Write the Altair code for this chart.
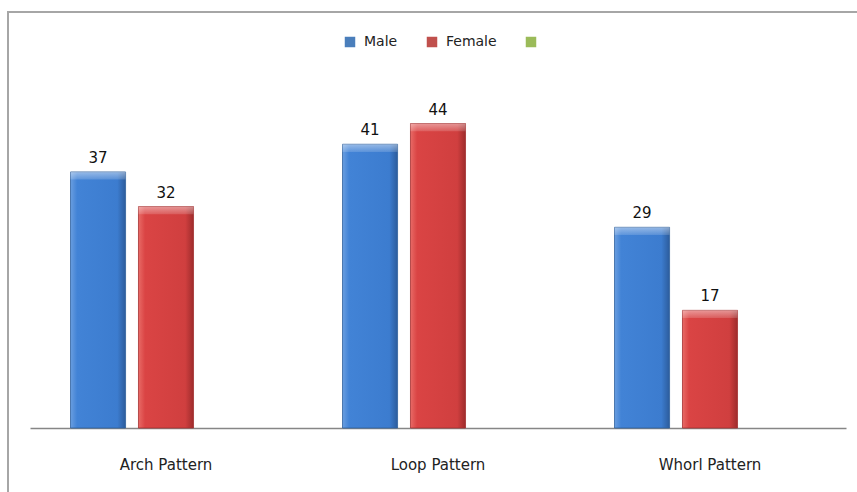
import altair as alt
import pandas as pd

categories = ["Arch Pattern", "Loop Pattern", "Whorl Pattern"]
series_names = ["Male", "Female", "Series3"]
male = [37, 41, 29]
female = [32, 44, 17]

rows = []
for c, m, f in zip(categories, male, female):
    rows.append({"category": c, "series": "Male", "value": m})
    rows.append({"category": c, "series": "Female", "value": f})
df = pd.DataFrame(rows)

FONT = "DejaVu Sans"

x_enc = alt.X("category:N", sort=categories,
              scale=alt.Scale(domain=categories, paddingInner=0.298, paddingOuter=0.149),
              axis=alt.Axis(title=None, labelAngle=0, ticks=False, domainColor="#868686",
                            domainWidth=1.5, labelPadding=29, labelFontSize=15,
                            labelFont=FONT, labelColor="#222222"))
xo_enc = alt.XOffset("series:N", scale=alt.Scale(domain=series_names, paddingInner=0.19, paddingOuter=0))
y_enc = alt.Y("value:Q", scale=alt.Scale(domain=[0, 50]), axis=None)

blue_grad = alt.LinearGradient(gradient="linear", x1=0, x2=1, y1=0, y2=0, stops=[
    alt.GradientStop(color="#6a9ee0", offset=0),
    alt.GradientStop(color="#4283d6", offset=0.12),
    alt.GradientStop(color="#3c7ccf", offset=0.85),
    alt.GradientStop(color="#2c5c9c", offset=1)])
red_grad = alt.LinearGradient(gradient="linear", x1=0, x2=1, y1=0, y2=0, stops=[
    alt.GradientStop(color="#e86a66", offset=0),
    alt.GradientStop(color="#da4444", offset=0.12),
    alt.GradientStop(color="#d03f3f", offset=0.85),
    alt.GradientStop(color="#9e2c2c", offset=1)])
top_grad = alt.LinearGradient(gradient="linear", x1=0, x2=0, y1=0, y2=1, stops=[
    alt.GradientStop(color="rgba(255,255,255,0.45)", offset=0),
    alt.GradientStop(color="rgba(255,255,255,0.15)", offset=1)])

base = alt.Chart(df)

male_bars = base.transform_filter(alt.datum.series == "Male").mark_bar(
    fill=blue_grad, stroke="#2f5f9c", strokeWidth=0.8
).encode(x=x_enc, xOffset=xo_enc, y=y_enc)

female_bars = base.transform_filter(alt.datum.series == "Female").mark_bar(
    fill=red_grad, stroke="#a33030", strokeWidth=0.8
).encode(x=x_enc, xOffset=xo_enc, y=y_enc)

bevel = base.transform_calculate(low="datum.value - 1.1").mark_bar(
    fill=top_grad, strokeWidth=0
).encode(x=x_enc, xOffset=xo_enc, y=y_enc, y2="low:Q")

labels = base.mark_text(dy=-14, fontSize=15, font=FONT, color="#111111").encode(
    x=x_enc, xOffset=xo_enc, y=y_enc, text="value:Q")

legend_layer = base.mark_square(opacity=0, size=1).encode(
    x=x_enc, xOffset=xo_enc, y=y_enc,
    color=alt.Color("series:N",
                    scale=alt.Scale(domain=series_names, range=["#4a7ebb", "#c0504d", "#9bbb59"]),
                    legend=alt.Legend(title=None, orient="none", legendX=313, legendY=-47,
                                      direction="horizontal", symbolType="square",
                                      symbolSize=110, symbolOpacity=1, symbolStrokeWidth=0,
                                      labelFontSize=14, labelFont=FONT, labelColor="#222222",
                                      columnPadding=27, labelOffset=7,
                                      labelExpr="datum.label == 'Series3' ? '' : datum.label")))

border = alt.Chart(pd.DataFrame({"k": [0]})).mark_rect(
    fill=None, stroke="#a6a6a6", strokeWidth=2
).encode(x=alt.value(-22), x2=alt.value(900), y=alt.value(-70), y2=alt.value(600))

chart = alt.layer(border, male_bars, female_bars, bevel, labels, legend_layer).properties(
    width=816, height=346,
    autosize=alt.AutoSizeParams(type="none"),
    padding={"left": 30, "top": 82, "right": 11, "bottom": 64},
    background="white"
).configure_view(stroke=None)

chart.save("out.html", embed_options={"renderer": "svg", "actions": False})
